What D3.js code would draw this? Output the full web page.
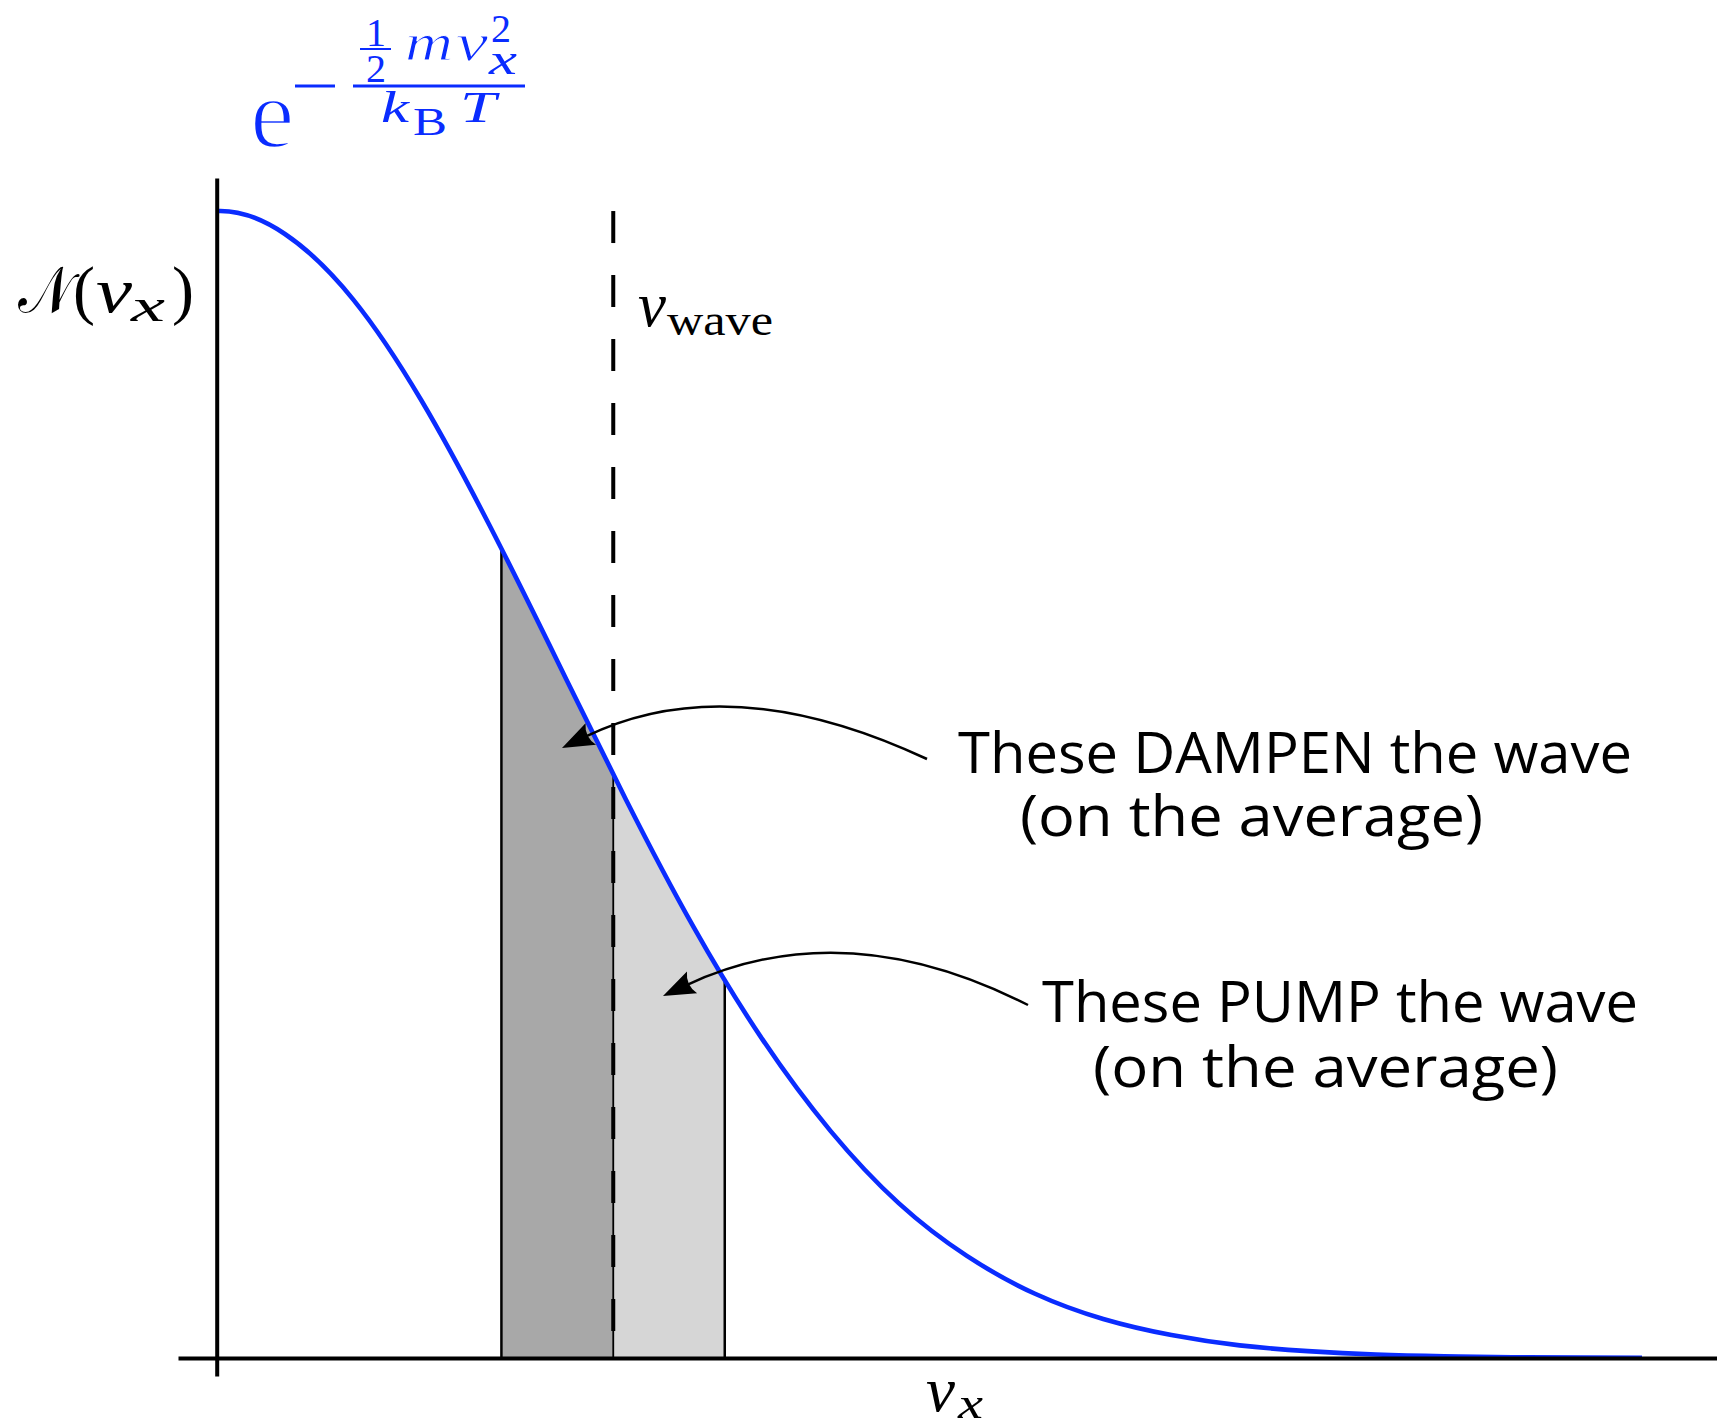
<!DOCTYPE html>
<html>
<head>
<meta charset="utf-8">
<script src="https://cdn.jsdelivr.net/npm/d3@7"></script>
<style>
  html, body { margin: 0; padding: 0; background: #ffffff; }
  svg { display: block; }
</style>
</head>
<body>
<script>
// ---------------- data ----------------
// velocity in units of the thermal spread, density normalised to the peak
// (the curve is even, so the point at -0.2 mirrors the one at +0.2; it is clipped away)
const vx      = [-0.2, 0, 0.2, 0.4, 0.6, 0.8, 1.0, 1.2, 1.4, 1.6, 1.8, 2.0, 2.2, 2.4, 2.6, 2.8, 3.0, 3.2, 3.4, 3.6, 3.8, 4.0, 4.18];
const density = [0.980, 1, 0.980, 0.923, 0.835, 0.726, 0.607, 0.487, 0.375, 0.278, 0.198, 0.135, 0.089, 0.056, 0.034, 0.020, 0.011, 0.006, 0.003, 0.0015, 0.0007, 0.0003, 0.0002];

const bandEdges  = [0.835, 1.163, 1.49];      // shaded strips
const bandFills  = ["#a8a8a8", "#d6d6d6"];
const vWave      = 1.163;

const xDomain = [-0.1135, 4.4];
const yDomain = [-0.0157, 1.0288];

const annotationLines = [
  ["These DAMPEN the wave", "(on the average)"],
  ["These PUMP the wave", "(on the average)"]
];

// ---------------- setup ----------------
const W = 1717, H = 1428;
const svg = d3.select("body").append("svg").attr("width", W).attr("height", H);

const x = d3.scaleLinear().domain(xDomain).range([178, 1717]);
const y = d3.scaleLinear().domain(yDomain).range([1376, 178]);

const blue = "#0a2cff";
const pts = vx.map((v, i) => ({v, n: density[i]}));

const defs = svg.append("defs");
// clip: area under the curve
const area = d3.area().x(d => x(d.v)).y0(y(0)).y1(d => y(d.n)).curve(d3.curveNatural);
defs.append("clipPath").attr("id", "under")
  .append("path").attr("d", area(pts));
// clip: right of the vertical axis
defs.append("clipPath").attr("id", "pos")
  .append("rect").attr("x", x(0)).attr("y", 0).attr("width", W).attr("height", H);

// shaded strips
const bands = bandFills.map((f, i) => ({a: bandEdges[i], b: bandEdges[i + 1], fill: f}));
const gB = svg.append("g").attr("clip-path", "url(#under)");
gB.selectAll("rect").data(bands).join("rect")
  .attr("x", d => x(d.a)).attr("width", d => x(d.b) - x(d.a))
  .attr("y", y(1.02)).attr("height", y(0) - y(1.02))
  .attr("fill", d => d.fill);
gB.selectAll("line").data(bandEdges).join("line")
  .attr("x1", d => x(d)).attr("x2", d => x(d))
  .attr("y1", y(0)).attr("y2", y(1.02))
  .attr("stroke", "#000").attr("stroke-width", (d, i) => i === 1 ? 1.8 : 2.5);

// dashed v_wave line
svg.append("line")
  .attr("x1", x(vWave)).attr("x2", x(vWave))
  .attr("y1", y(1)).attr("y2", y(0))
  .attr("stroke", "#000").attr("stroke-width", 4)
  .attr("stroke-dasharray", "32,32");

// curve
const line = d3.line().x(d => x(d.v)).y(d => y(d.n)).curve(d3.curveNatural);
svg.append("g").attr("clip-path", "url(#pos)")
  .append("path").attr("d", line(pts))
  .attr("fill", "none").attr("stroke", blue).attr("stroke-width", 4.6);

// axes (no ticks)
const gx = svg.append("g").attr("transform", `translate(0,${y(0)})`)
  .call(d3.axisBottom(x).tickValues([]).tickSizeOuter(0));
const gy = svg.append("g").attr("transform", `translate(${x(0)},0)`)
  .call(d3.axisLeft(y).tickValues([]).tickSizeOuter(0));
[gx, gy].forEach(g => g.select(".domain").attr("stroke", "#000").attr("stroke-width", 4));

// ---------------- text helpers ----------------
function txt(s, px, py, size, o = {}) {
  const t = svg.append("text")
    .attr("x", px).attr("y", py)
    .attr("font-family", o.family || "'Liberation Serif', 'Times New Roman', serif")
    .attr("font-size", size)
    .attr("font-style", o.italic ? "italic" : "normal")
    .attr("fill", o.fill || "#000")
    .attr("text-anchor", o.anchor || "start")
    .text(s);
  if (o.len) t.attr("textLength", o.len).attr("lengthAdjust", "spacingAndGlyphs");
  if (o.thin) t.attr("stroke", "#fff").attr("stroke-width", o.thin);
  return t;
}

// y label  N(v_x)
txt("\u{1D4A9}", 18, 312, 64, {family: "'DejaVu Serif','DejaVu Sans','Noto Sans',serif", len: 54});
txt("(", 73, 312, 66);
txt("v", 96, 312, 64, {italic: true, len: 36});
txt("x", 131, 321, 46, {italic: true, len: 34});
txt(")", 172, 312, 66);

// v_wave
txt("v", 638, 326, 64, {italic: true, len: 28});
txt("wave", 667, 335, 44, {len: 106});

// x label
txt("v", 926, 1411, 64, {italic: true, len: 29});
txt("x", 958, 1418, 44, {italic: true, len: 25});

// formula  e^{- (1/2 m v_x^2)/(k_B T)}
const bf = {fill: blue};
txt("e", 250, 147, 100, {fill: blue, thin: 2.5});
txt("1", 376, 46, 40, {fill: blue, anchor: "middle"});
txt("2", 376, 82, 40, {fill: blue, anchor: "middle"});
txt("m", 405, 60, 52, {fill: blue, italic: true, len: 48, thin: 1});
txt("v", 456, 60, 52, {fill: blue, italic: true, len: 32, thin: 1});
txt("2", 491, 42, 40, bf);
txt("x", 489, 74, 44, {fill: blue, italic: true, len: 28});
txt("k", 381, 122, 44, {fill: blue, italic: true, len: 28});
txt("B", 413, 135, 40, {fill: blue, len: 34});
txt("T", 460, 122, 44, {fill: blue, italic: true, len: 36});
[[295, 335, 86, 3], [353, 525, 86, 3], [360, 391, 49, 2]].forEach(([a, b, yy, w]) =>
  svg.append("line").attr("x1", a).attr("x2", b).attr("y1", yy).attr("y2", yy)
    .attr("stroke", blue).attr("stroke-width", w));

// annotations
const sans = "'Open Sans','Noto Sans',sans-serif";
txt(annotationLines[0][0], 958, 773, 57, {family: sans, len: 674});
txt(annotationLines[0][1], 1020, 836, 57, {family: sans, len: 463});
txt(annotationLines[1][0], 1042, 1022, 57, {family: sans, len: 596});
txt(annotationLines[1][1], 1093, 1087, 57, {family: sans, len: 465});

// arrows
function arrow(S, C, tip) {
  let dx = tip[0] - C[0], dy = tip[1] - C[1];
  const L = Math.hypot(dx, dy); dx /= L; dy /= L;
  const len = 32, half = 12;
  const base = [tip[0] - dx * len, tip[1] - dy * len];
  const px = -dy, py = dx;
  svg.append("path")
    .attr("d", `M${S[0]},${S[1]} Q${C[0]},${C[1]} ${base[0] + dx * 6},${base[1] + dy * 6}`)
    .attr("fill", "none").attr("stroke", "#000").attr("stroke-width", 2.5);
  const c1 = [base[0] + px * half, base[1] + py * half];
  const c2 = [base[0] - px * half, base[1] - py * half];
  const notch = [base[0] + dx * 7, base[1] + dy * 7];
  svg.append("path")
    .attr("d", `M${tip[0]},${tip[1]} L${c1[0]},${c1[1]} Q${notch[0]},${notch[1]} ${c2[0]},${c2[1]} Z`)
    .attr("fill", "#000");
}
arrow([927, 759], [729.5, 666.5], [562, 748]);
arrow([1028, 1005], [844.5, 911.5], [663, 996]);
</script>
</body>
</html>
